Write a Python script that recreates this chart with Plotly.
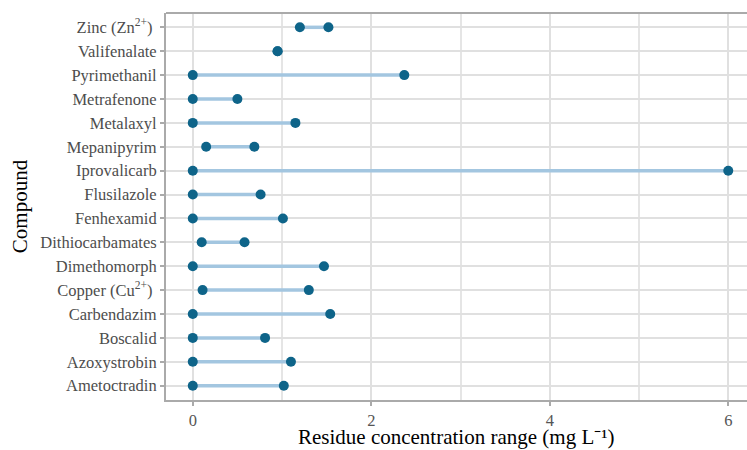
import plotly.graph_objects as go

compounds = ["Ametoctradin", "Azoxystrobin", "Boscalid", "Carbendazim",
             "Copper (Cu<sup>2+</sup>)\u00a0", "Dimethomorph", "Dithiocarbamates",
             "Fenhexamid", "Flusilazole", "Iprovalicarb", "Mepanipyrim",
             "Metalaxyl", "Metrafenone", "Pyrimethanil", "Valifenalate",
             "Zinc (Zn<sup>2+</sup>)\u00a0"]
min_vals = [0.0, 0.0, 0.0, 0.0, 0.11, 0.0, 0.10, 0.0, 0.0, 0.0, 0.15,
            0.0, 0.0, 0.0, 0.95, 1.20]
max_vals = [1.02, 1.10, 0.81, 1.54, 1.30, 1.47, 0.58, 1.01, 0.76, 6.0, 0.69,
            1.15, 0.50, 2.37, 0.95, 1.52]

FONT = "Liberation Serif, Times New Roman, serif"
seg_x, seg_y = [], []
for c, a, b in zip(compounds, min_vals, max_vals):
    seg_x += [a, b, None]
    seg_y += [c, c, None]

fig = go.Figure()
fig.add_trace(go.Scatter(x=seg_x, y=seg_y, mode="lines",
                         line=dict(color="#A3C6E0", width=3.5),
                         hoverinfo="skip", showlegend=False))
fig.add_trace(go.Scatter(x=min_vals + max_vals, y=compounds + compounds,
                         mode="markers",
                         marker=dict(color="#0E6489", size=10),
                         showlegend=False))

fig.update_layout(
    width=747, height=450,
    margin=dict(l=166, r=0, t=13, b=50),
    plot_bgcolor="white", paper_bgcolor="white",
    font=dict(family=FONT, size=16.5, color="#4D4D4D"),
)
fig.update_xaxes(
    range=[-0.3, 6.21], tickvals=[0, 2, 4, 6],
    showgrid=True, gridcolor="#E0E0E0", gridwidth=1.5,
    minor=dict(tickvals=[1, 3, 5], showgrid=True, gridcolor="#E5E5E5", gridwidth=1.5, ticks=""),
    zeroline=False, showline=True, linecolor="#AAAAAA", linewidth=2, mirror=False,
    ticks="outside", ticklen=4, tickcolor="#AAAAAA", tickwidth=1.5,
    tickfont=dict(family=FONT, size=16.5, color="#555555"),
)
fig.update_yaxes(
    type="category", categoryorder="array", categoryarray=compounds,
    range=[-0.6, 15.6],
    showgrid=True, gridcolor="#E0E0E0", gridwidth=1.5,
    zeroline=False, showline=True, linecolor="#AAAAAA", linewidth=2,
    ticks="outside", ticklen=4, tickcolor="#AAAAAA", tickwidth=1.5,
    tickfont=dict(family=FONT, size=16.5, color="#4D4D4D"),
    title=dict(text="Compound", font=dict(family=FONT, size=21, color="black"), standoff=7),
)
# x-axis title as annotation placed just below the tick labels
fig.add_annotation(text="Residue concentration range (mg L\u207b\u00b9)",
                   xref="paper", yref="paper", x=0.5, y=0,
                   xanchor="center", yanchor="bottom", yshift=-50, showarrow=False,
                   borderpad=0,
                   font=dict(family=FONT, size=21, color="black"))
# top border of panel
fig.add_shape(type="line", xref="paper", yref="paper", x0=0, x1=1, y0=1, y1=1,
              line=dict(color="#AAAAAA", width=2))

fig.write_html("out.html")
